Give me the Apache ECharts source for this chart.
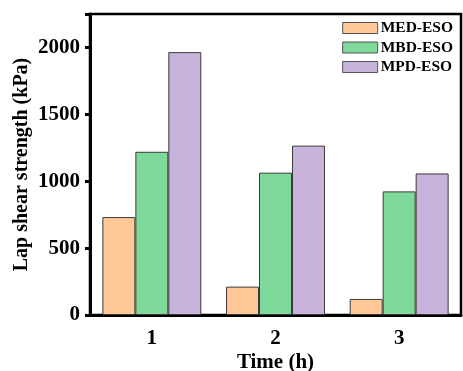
<!DOCTYPE html>
<html>
<head>
<meta charset="utf-8">
<script src="https://cdn.jsdelivr.net/npm/echarts@6/dist/echarts.min.js"></script>
<style>
  html, body { margin: 0; padding: 0; background: #fff; }
  #chart { width: 463px; height: 371px; }
</style>
</head>
<body>
<div id="chart"></div>
<script>
const times = ['1', '2', '3']
const medEso = [732, 212, 120]
const mbdEso = [1220, 1064, 924]
const mpdEso = [1965, 1266, 1058]
const yTicks = [0, 500, 1000, 1500, 2000]

const font = 'Liberation Serif, Times New Roman, serif'
const chart = echarts.init(document.getElementById('chart'))

const barSeries = (name, data, color) => ({
  name,
  type: 'bar',
  data,
  barGap: '0%',
  barCategoryGap: '20%',
  itemStyle: {
    color,
    borderColor: '#3a3a3a',
    borderWidth: 1,
  },
  emphasis: { disabled: true },
  animation: false,
})

chart.setOption({
  backgroundColor: '#fff',
  grid: {
    left: 90,
    right: 2,
    top: 14,
    bottom: 56,
    outerBoundsMode: 'none',
    containLabel: false,
    show: true,
    borderColor: '#000',
    borderWidth: 2.5,
  },
  legend: {
    orient: 'vertical',
    right: 5,
    top: 15,
    icon: 'rect',
    itemWidth: 35,
    itemHeight: 11,
    itemGap: 3.5,
    textStyle: {
      fontFamily: font,
      fontWeight: 'bold',
      fontSize: 15.5,
      color: '#000',
      padding: [0, 0, 0, -2],
    },
    itemStyle: {
      borderColor: '#555',
      borderWidth: 1,
    },
    data: ['MED-ESO', 'MBD-ESO', 'MPD-ESO'],
  },
  xAxis: {
    type: 'category',
    data: times,
    name: 'Time (h)',
    nameLocation: 'middle',
    nameGap: 37,
    nameMoveOverlap: false,
    nameTextStyle: {
      fontFamily: font,
      fontWeight: 'bold',
      fontSize: 21,
      color: '#000',
    },
    axisLine: { lineStyle: { color: '#000', width: 3 } },
    axisTick: {
      alignWithLabel: true,
      length: 5,
      lineStyle: { color: '#000', width: 3 },
    },
    axisLabel: {
      fontFamily: font,
      fontWeight: 'bold',
      fontSize: 21,
      color: '#000',
      margin: 13,
    },
  },
  yAxis: {
    type: 'value',
    min: 0,
    max: 2250,
    interval: 500,
    name: 'Lap shear strength (kPa)',
    nameLocation: 'middle',
    nameGap: 58,
    nameMoveOverlap: false,
    nameTextStyle: {
      fontFamily: font,
      fontWeight: 'bold',
      fontSize: 20,
      color: '#000',
    },
    axisLine: { show: true, lineStyle: { color: '#000', width: 3 } },
    axisTick: {
      show: true,
      length: 5,
      lineStyle: { color: '#000', width: 3 },
    },
    splitLine: { show: false },
    axisLabel: {
      fontFamily: font,
      fontWeight: 'bold',
      fontSize: 21,
      color: '#000',
      margin: 10,
      formatter: (v) => (yTicks.includes(v) ? String(v) : ''),
    },
  },
  series: [
    barSeries('MED-ESO', medEso, '#FFC896'),
    barSeries('MBD-ESO', mbdEso, '#7FD99A'),
    barSeries('MPD-ESO', mpdEso, '#C8B4DA'),
  ],
})
</script>
</body>
</html>
